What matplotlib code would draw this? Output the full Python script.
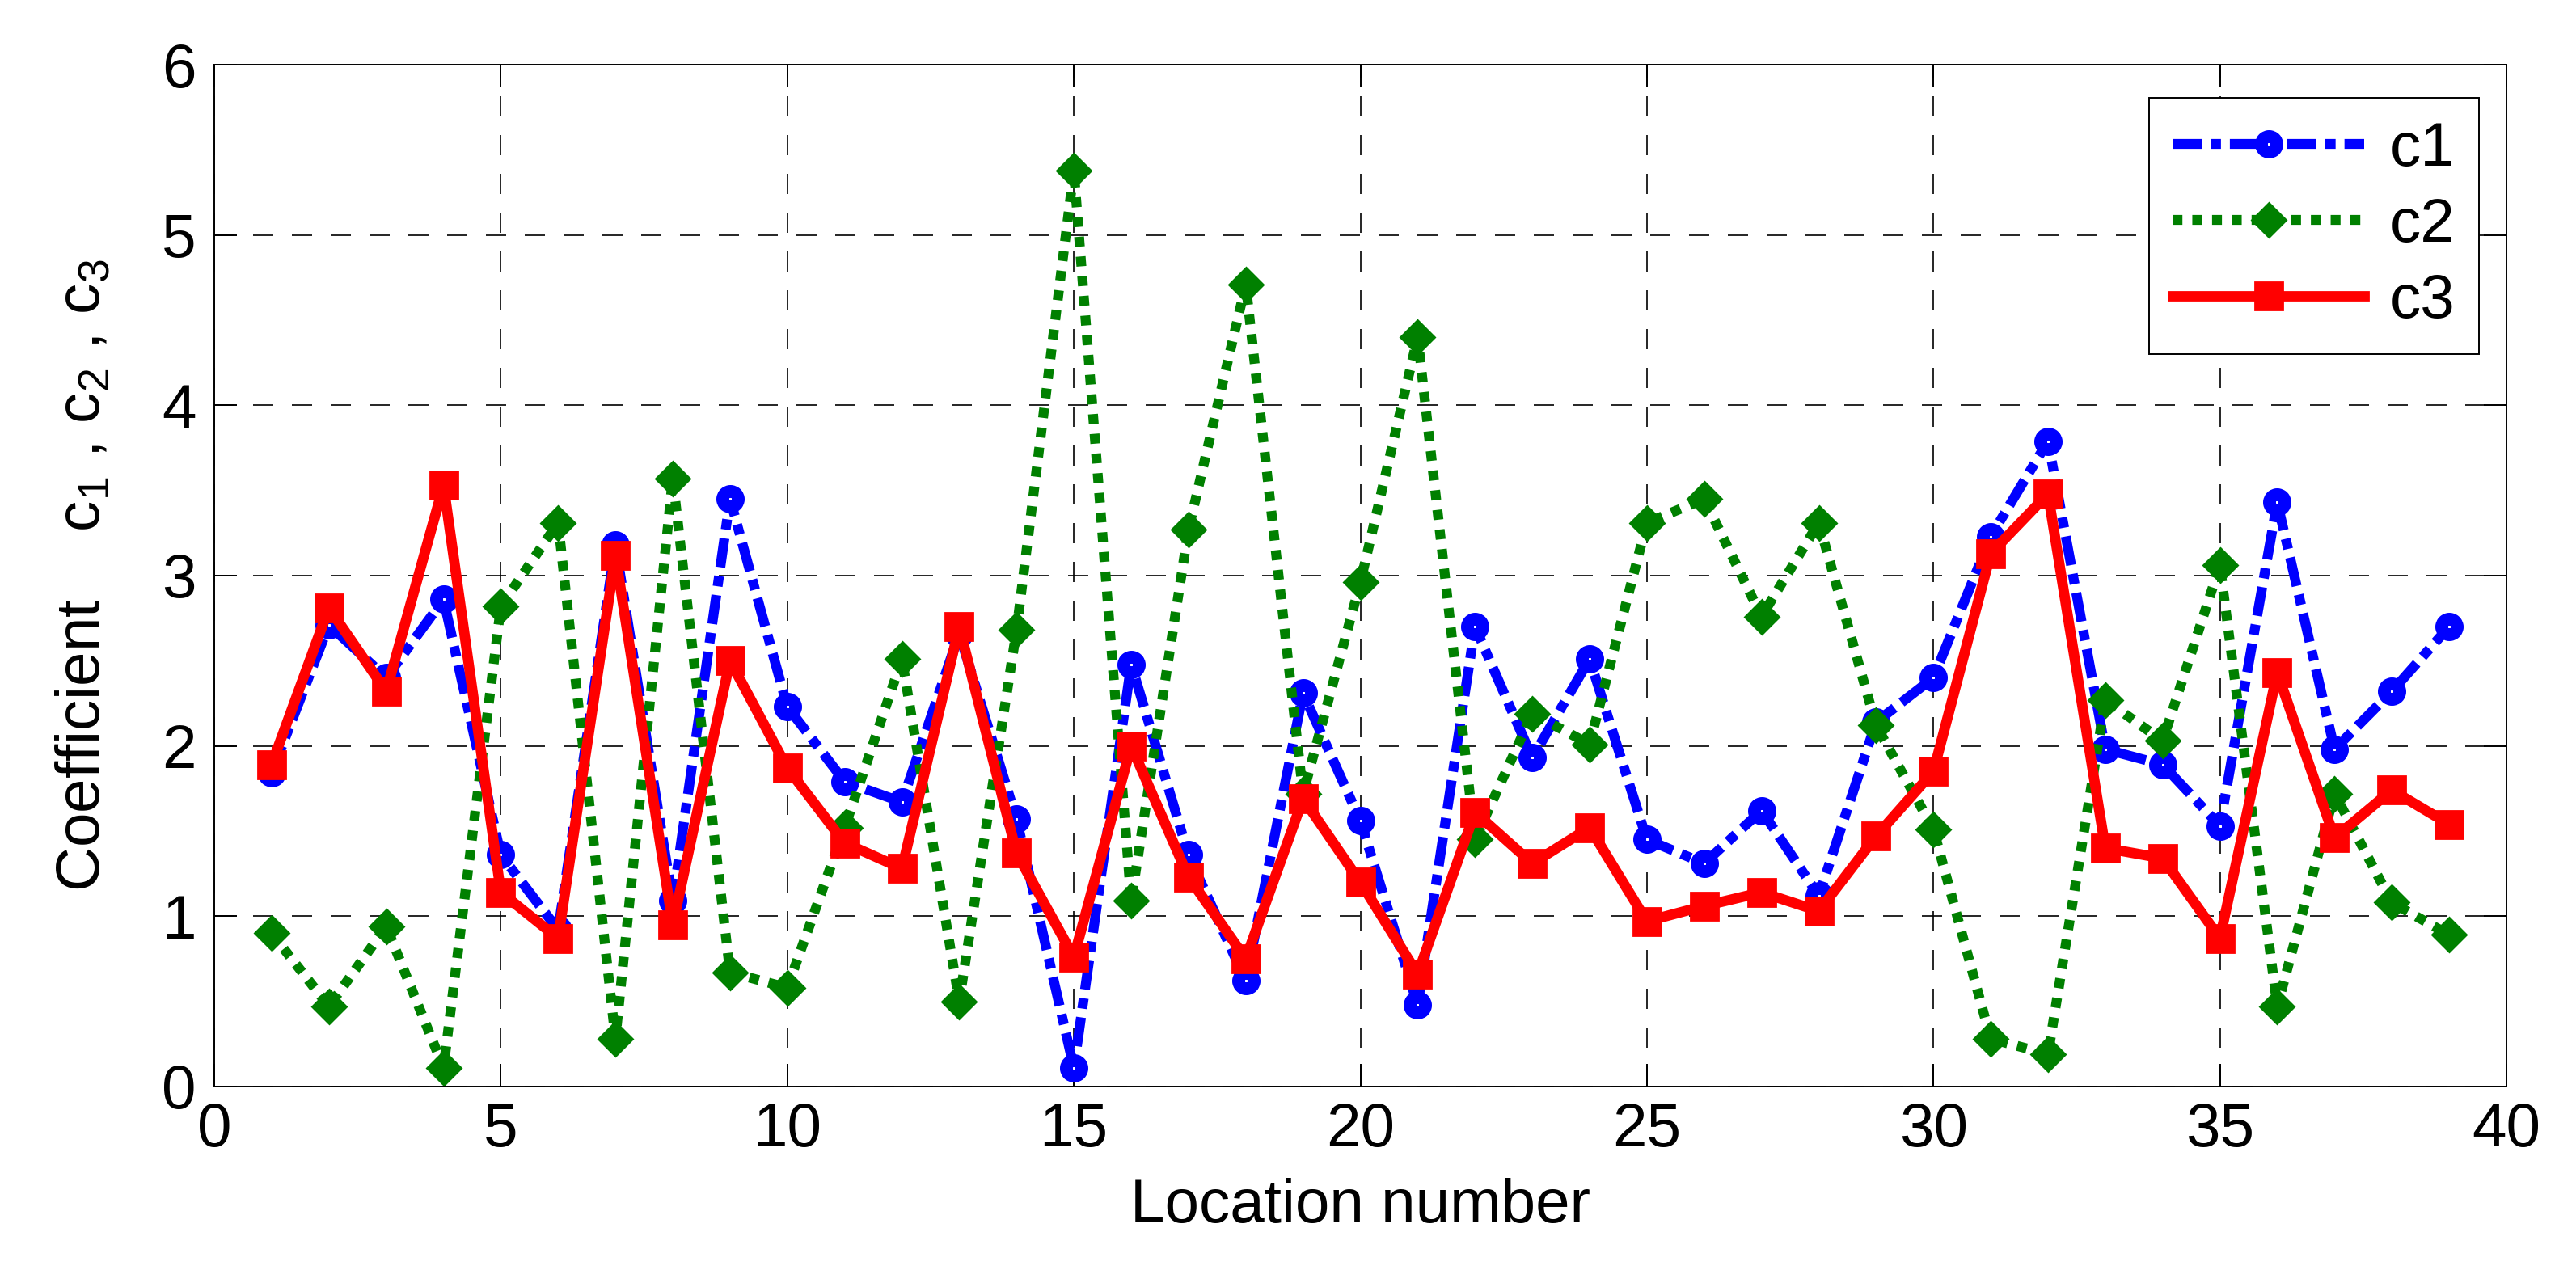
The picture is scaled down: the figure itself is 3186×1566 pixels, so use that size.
import numpy as np
import matplotlib
matplotlib.use('Agg')
import matplotlib.pyplot as plt

plt.rcParams['font.family'] = ['Liberation Sans', 'DejaVu Sans']
plt.rcParams['mathtext.fontset'] = 'custom'
plt.rcParams['mathtext.rm'] = 'Liberation Sans'
plt.rcParams['mathtext.it'] = 'Liberation Sans'

'''
values read from the picture
'''
location = list(range(1, 40))
c1 = [1.84, 2.71, 2.40, 2.86, 1.36, 0.92, 3.18, 1.09, 3.45, 2.23,
      1.79, 1.67, 2.66, 1.57, 0.11, 2.48, 1.36, 0.62, 2.31, 1.56,
      0.48, 2.70, 1.93, 2.51, 1.45, 1.31, 1.62, 1.12, 2.14, 2.40,
      3.23, 3.79, 1.98, 1.89, 1.53, 3.43, 1.98, 2.32, 2.70]
c2 = [0.90, 0.47, 0.94, 0.11, 2.82, 3.31, 0.28, 3.57, 0.67, 0.58,
      1.52, 2.51, 0.50, 2.68, 5.38, 1.09, 3.27, 4.71, 1.72, 2.96,
      4.40, 1.45, 2.19, 2.01, 3.31, 3.45, 2.76, 3.31, 2.12, 1.51,
      0.28, 0.19, 2.27, 2.03, 3.06, 0.47, 1.72, 1.08, 0.89]
c3 = [1.89, 2.81, 2.32, 3.53, 1.14, 0.87, 3.12, 0.95, 2.50, 1.87,
      1.43, 1.28, 2.70, 1.37, 0.76, 2.00, 1.23, 0.75, 1.69, 1.20,
      0.66, 1.61, 1.31, 1.52, 0.97, 1.06, 1.14, 1.03, 1.47, 1.85,
      3.13, 3.48, 1.40, 1.34, 0.87, 2.43, 1.46, 1.74, 1.54]

fs = 27.5

fig = plt.figure(figsize=(15.93, 7.83), dpi=200)
ax = fig.add_axes([0.0832, 0.1418, 0.8898, 0.8071])

ax.plot(location, c1, color='#0000FF', linewidth=4.4, linestyle=(0, (2.95, 0.9, 1.05, 0.9)),
        marker='o', markersize=7.0, markeredgewidth=5.6, markerfacecolor='white',
        markeredgecolor='#0000FF', label='c1')
ax.plot(location, c2, color='#008000', linewidth=4.4, linestyle=(0, (1.0, 1.0)),
        marker='D', markersize=10.5, markeredgewidth=1, markerfacecolor='#008000',
        markeredgecolor='#008000', label='c2')
ax.plot(location, c3, color='#FF0000', linewidth=4.6, linestyle='-',
        marker='s', markersize=12, markeredgewidth=1, markerfacecolor='#FF0000',
        markeredgecolor='#FF0000', label='c3')

ax.set_xlim(0, 40)
ax.set_ylim(0, 6)
ax.set_xticks(np.arange(0, 41, 5))
ax.set_yticks(np.arange(0, 7, 1))
ax.grid(True, color='black', linestyle=(0, (15, 13.8)), linewidth=0.6)
ax.tick_params(direction='in', length=10, width=0.7, top=True, right=True,
               labelsize=fs)
ax.tick_params(axis='y', pad=8)
ax.tick_params(axis='x', pad=7)
for s in ax.spines.values():
    s.set_linewidth(0.7)

ax.set_xlabel('Location number', fontsize=fs, labelpad=8)
ax.set_ylabel('Coefficient    c$_1$ , c$_2$ , c$_3$', fontsize=fs, labelpad=22)

leg = ax.legend(loc='upper right', bbox_to_anchor=(0.988, 0.9676), borderaxespad=0,
                fontsize=fs, handlelength=3.1, handletextpad=0.42, numpoints=1,
                labelspacing=0.3, borderpad=0.38, fancybox=False, framealpha=1)
leg.get_frame().set_edgecolor('black')
leg.get_frame().set_linewidth(0.7)

plt.savefig('out.png', dpi=200)
